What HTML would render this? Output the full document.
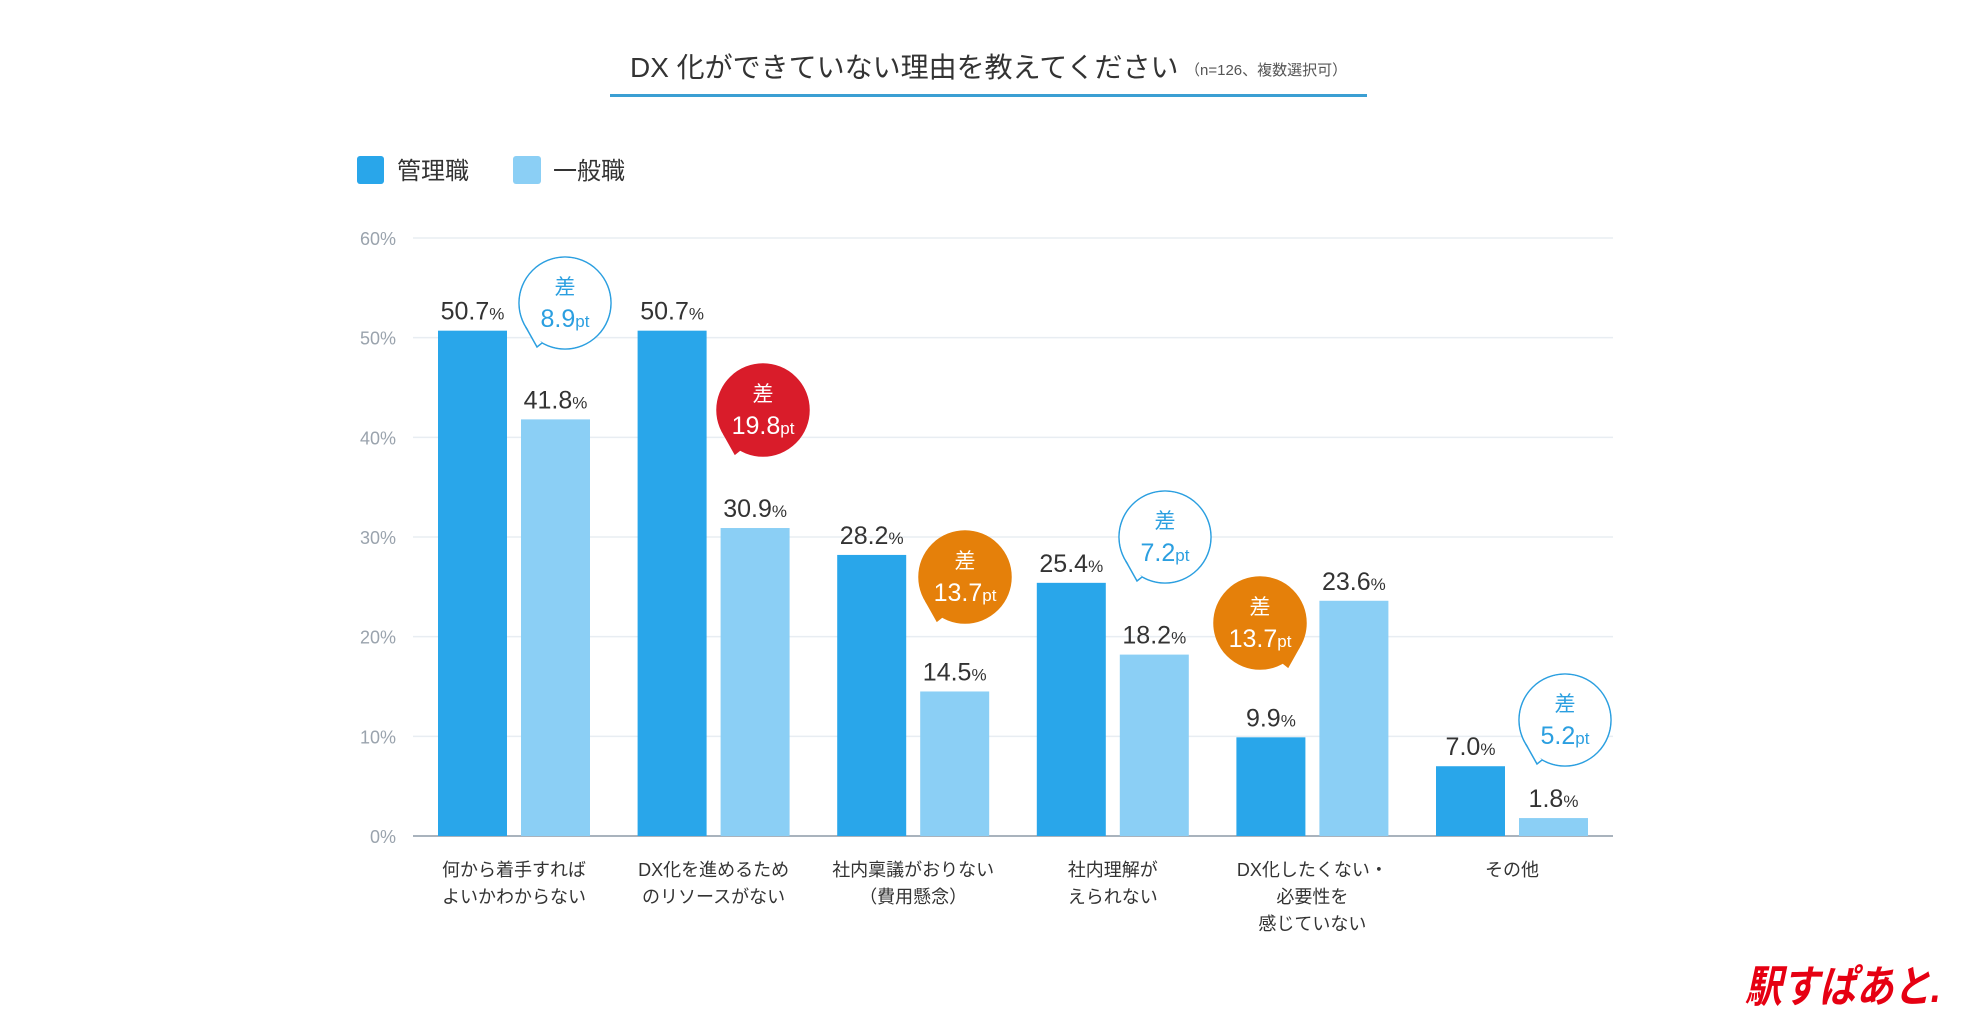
<!DOCTYPE html>
<html><head><meta charset="utf-8">
<style>
html,body{margin:0;padding:0;background:#fff;}
svg{display:block;font-family:"Liberation Sans","Noto Sans CJK JP",sans-serif;}
</style></head>
<body>
<svg id="chart" width="1969" height="1034" viewBox="0 0 1969 1034" xmlns="http://www.w3.org/2000/svg">
  <g>
    <text x="630" y="77" font-size="28" fill="#333">DX 化ができていない理由を教えてください</text>
    <text x="1185" y="75" font-size="15" fill="#555">（n=126、複数選択可）</text>
    <rect x="610" y="94" width="757" height="3" fill="#3b9fd3"/>
  </g>
  <g>
    <g>
      <rect x="357" y="156" width="27" height="28" rx="3" fill="#29a6ea"/>
      <text x="397" y="179" font-size="24" fill="#333">管理職</text>
    </g>
    <g>
      <rect x="513" y="156" width="28" height="28" rx="3" fill="#8bcff5"/>
      <text x="553" y="179" font-size="24" fill="#333">一般職</text>
    </g>
  </g>
  <g id="grid"></g>
  <g id="bars"></g>
  <g id="labels"></g>
  <g id="bubbles"></g>
  <text x="1745" y="1002" font-size="44" font-weight="bold" font-style="italic" fill="#e60012" textLength="196" lengthAdjust="spacingAndGlyphs">駅すぱあと.</text>
</svg>
<script>
const categories = [["何から着手すれば","よいかわからない"],["DX化を進めるため","のリソースがない"],["社内稟議がおりない","（費用懸念）"],["社内理解が","えられない"],["DX化したくない・","必要性を","感じていない"],["その他"]];
const managerValues = [50.7, 50.7, 28.2, 25.4, 9.9, 7.0];
const staffValues = [41.8, 30.9, 14.5, 18.2, 23.6, 1.8];
const yTicks = [0, 10, 20, 30, 40, 50, 60];
const bubbleStyles = ["outline", "red", "orange", "outline", "orange", "outline"];

const NS = "http://www.w3.org/2000/svg";
const y0 = 836, pxPer = 99.67, plotL = 413, plotR = 1613;
const groupX0 = 438, pitch = 199.6, barW = 69, lightOff = 83;
function yScale(v){ return y0 - v * pxPer / 10; }
function xGroup(i){ return groupX0 + i * pitch; }
function mk(tag, attrs, parent){ const e = document.createElementNS(NS, tag); for (const k in attrs) e.setAttribute(k, attrs[k]); parent.appendChild(e); return e; }

const grid = document.getElementById('grid');
yTicks.forEach(t => {
  const y = yScale(t);
  const ln = mk('line', {x1: plotL, x2: plotR, y1: y, y2: y, stroke: t === 0 ? '#a9b3bd' : '#e8edf2', 'stroke-width': t === 0 ? 2 : 1.5}, grid);
  
  
  const tx = mk('text', {x: 396, y: y + 7, 'font-size': 18, fill: '#9aa3ad', 'text-anchor': 'end'}, grid);
  tx.textContent = t + '%';
  
  
});

const bars = document.getElementById('bars');
function valueLabel(cx, v){
  const t = mk('text', {x: cx, y: yScale(v) - 11, 'text-anchor': 'middle', fill: '#333'}, bars);
  const a = mk('tspan', {'font-size': 25}, t); a.textContent = v.toFixed(1);
  const b = mk('tspan', {'font-size': 17}, t); b.textContent = '%';
  
  
}
managerValues.forEach((v, i) => {
  const x = xGroup(i);
  const r = mk('rect', {x: x, y: yScale(v), width: barW, height: y0 - yScale(v), fill: '#29a6ea'}, bars);
  
  
  valueLabel(x + barW / 2, v);
});
staffValues.forEach((v, i) => {
  const x = xGroup(i) + lightOff;
  const r = mk('rect', {x: x, y: yScale(v), width: barW, height: y0 - yScale(v), fill: '#8bcff5'}, bars);
  
  
  valueLabel(x + barW / 2, v);
});

const labels = document.getElementById('labels');
categories.forEach((lines, i) => {
  const cx = xGroup(i) + (lightOff + barW) / 2;
  lines.forEach((s, j) => {
    const t = mk('text', {x: cx, y: 876 + j * 27, 'font-size': 18, fill: '#333', 'text-anchor': 'middle'}, labels);
    t.textContent = s;
    
    
  });
});

// bubble layout (pixel placement, not data)
const bubbleCx = [565, 763, 965, 1165, 1260, 1565];
const bubbleCy = [303, 410, 577, 537, 623, 720];
const bubbles = document.getElementById('bubbles');
bubbleStyles.forEach((st, i) => {
  const cx = bubbleCx[i], cy = bubbleCy[i], r = 46;
  const g = mk('g', {}, bubbles);
  
  
  const fill = st === 'outline' ? '#fff' : (st === 'red' ? '#d91c2a' : '#e5800a');
  const stroke = st === 'outline' ? '#2b9fe0' : fill;
  const txt = st === 'outline' ? '#2b9fe0' : '#fff';
  const right = (i === 4);
  const tipX = right ? cx + 28 : cx - 28, tipY = cy + 44;
  const a1 = right ? 0.55 : Math.PI - 0.55, a2 = right ? 1.05 : Math.PI - 1.05;
  const p = `M${cx + r*Math.cos(a1)},${cy + r*Math.sin(a1)} L${tipX},${tipY} L${cx + r*Math.cos(a2)},${cy + r*Math.sin(a2)}`;
  mk('circle', {cx: cx, cy: cy, r: r, fill: fill, stroke: stroke, 'stroke-width': 1.5}, g);
  mk('path', {d: p, fill: fill, stroke: stroke, 'stroke-width': 1.5}, g);
  mk('circle', {cx: cx, cy: cy, r: r - 0.8, fill: fill}, g);
  const t1 = mk('text', {x: cx, y: cy - 9, 'font-size': 21, fill: txt, 'text-anchor': 'middle'}, g);
  t1.textContent = '差';
  const diff = Math.abs(managerValues[i] - staffValues[i]).toFixed(1);
  const t2 = mk('text', {x: cx, y: cy + 24, fill: txt, 'text-anchor': 'middle'}, g);
  const n = mk('tspan', {'font-size': 25}, t2); n.textContent = diff;
  const u = mk('tspan', {'font-size': 17}, t2); u.textContent = 'pt';
});
</script>
</body></html>
